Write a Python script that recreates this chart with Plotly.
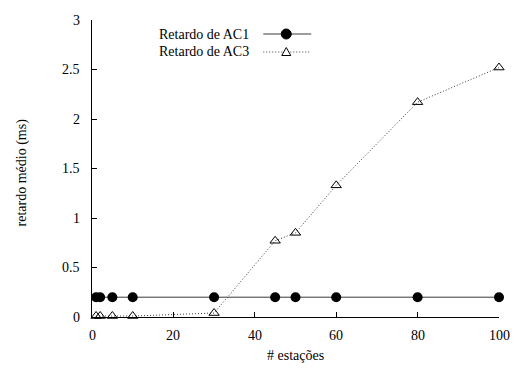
import plotly.graph_objects as go

estacoes = [1, 2, 5, 10, 30, 45, 50, 60, 80, 100]
retardo_ac1 = [0.2, 0.2, 0.2, 0.2, 0.2, 0.2, 0.2, 0.2, 0.2, 0.2]
retardo_ac3 = [0.01, 0.01, 0.01, 0.01, 0.04, 0.77, 0.85, 1.33, 2.17, 2.52]
series_names = ["Retardo de AC1", "Retardo de AC3"]
x_ticks = [0, 20, 40, 60, 80, 100]
x_tick_labels = ["0", "20", "40", "60", "80", "100"]
y_ticks = [0, 0.5, 1, 1.5, 2, 2.5, 3]
y_tick_labels = ["0", "0.5", "1", "1.5", "2", "2.5", "3"]
x_title = "# estações"
y_title = "retardo médio (ms)"

W, H = 516, 368
ml, mr, mt, mb = 91.5, 17, 20, 51
FONT = "Liberation Serif"
TXT = dict(family=FONT, size=14, color="black")

fig = go.Figure()
fig.add_trace(go.Scatter(
    x=estacoes, y=retardo_ac1, mode="lines+markers", name=series_names[0],
    line=dict(color="#3a3a3a", width=1),
    marker=dict(symbol="circle", size=10, color="black"),
    cliponaxis=False, showlegend=False))
fig.add_trace(go.Scatter(
    x=estacoes, y=retardo_ac3, mode="lines+markers", name=series_names[1],
    line=dict(color="#3a3a3a", width=1, dash="1px,2px"),
    marker=dict(symbol="triangle-up-open", size=9, color="black",
                line=dict(width=1, color="black")),
    cliponaxis=False, showlegend=False))

pw = W - ml - mr
ph = H - mt - mb
def px2x(px):
    return (px - ml) / pw
def py2y(py):
    return 1 - (py - mt) / ph

# gnuplot-style legend
rows = [34, 52]
for i, (name, ry) in enumerate(zip(series_names, rows)):
    fig.add_annotation(x=px2x(251), y=py2y(ry), xref="paper", yref="paper",
                       text=name, showarrow=False, xanchor="right", yanchor="middle",
                       font=TXT)
    fig.add_shape(type="line", xref="paper", yref="paper",
                  x0=px2x(263), x1=px2x(311), y0=py2y(ry), y1=py2y(ry),
                  line=dict(color="#3a3a3a", width=1, dash="solid" if i == 0 else "1px,2px"))

cx, r = 286, 5
fig.add_shape(type="circle", xref="paper", yref="paper",
              x0=px2x(cx - r), x1=px2x(cx + r), y0=py2y(rows[0] + r), y1=py2y(rows[0] - r),
              fillcolor="black", line=dict(color="black", width=1))
ty = rows[1]
fig.add_shape(type="path", xref="paper", yref="paper",
              path=f"M {px2x(cx-4.5)},{py2y(ty+3.5)} L {px2x(cx+4.5)},{py2y(ty+3.5)} L {px2x(cx)},{py2y(ty-4.5)} Z",
              fillcolor="white", line=dict(color="black", width=1))

# tick labels placed on the axis scales (serif text)
for v, t in zip(x_ticks, x_tick_labels):
    fig.add_annotation(x=v, y=0, xref="x", yref="paper", text=t, showarrow=False,
                       xanchor="center", yanchor="middle", yshift=-18, font=TXT)
for v, t in zip(y_ticks, y_tick_labels):
    fig.add_annotation(x=0, y=v, xref="paper", yref="y", text=t, showarrow=False,
                       xanchor="right", yanchor="middle", xshift=-10, font=TXT)

# axis titles
fig.add_annotation(x=0.5, y=0, xref="paper", yref="paper", text=x_title, showarrow=False,
                   xanchor="center", yanchor="middle", yshift=-38, font=TXT)
fig.add_annotation(x=0, y=0.5, xref="paper", yref="paper", text=y_title, showarrow=False,
                   textangle=-90, xanchor="center", yanchor="middle",
                   xshift=-71, yshift=-4, font=TXT)

fig.update_layout(
    template="none",
    width=W, height=H,
    margin=dict(l=ml, r=mr, t=mt, b=mb, pad=0, autoexpand=False),
    paper_bgcolor="white", plot_bgcolor="white",
    font=TXT,
)
fig.update_xaxes(range=[0, 100], tickvals=x_ticks, showticklabels=False,
                 ticks="inside", ticklen=5,
                 tickcolor="black", showline=True, linecolor="black", linewidth=1,
                 showgrid=False, zeroline=False, mirror=False, automargin=False)
fig.update_yaxes(range=[0, 3], tickvals=y_ticks, showticklabels=False,
                 ticks="inside", ticklen=5,
                 tickcolor="black", showline=True, linecolor="black", linewidth=1,
                 showgrid=False, zeroline=False, mirror=False, automargin=False)

fig.write_html("out.html", config={"displayModeBar": False},
               post_script="document.body.style.margin='0';")
